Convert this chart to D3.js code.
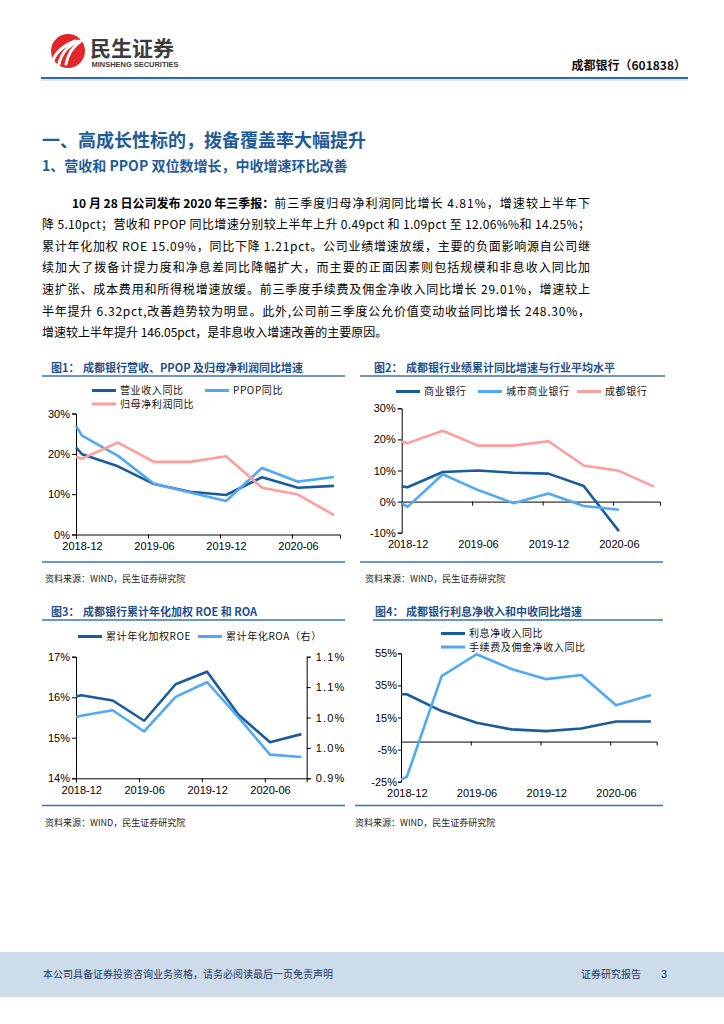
<!DOCTYPE html>
<html><head><meta charset="utf-8">
<script src="https://cdn.jsdelivr.net/npm/d3@7"></script>
<style>
body{margin:0;background:#fff}
svg{display:block}
</style>
</head><body>
<svg id="page" width="724" height="1024"></svg>
<script>
// ---------------- DATA ----------------
// x positions are months after the start of 2018-12 (Excel monthly category axis)
const periods = [0, 0.5, 3.5, 6.5, 9.5, 12.5, 15.5, 18.5, 21.5];
const xTickMonths = [0, 6, 12, 18];
const xLabelMonths = [0.5, 6.5, 12.5, 18.5];
const xTickLabels = ["2018-12", "2019-06", "2019-12", "2020-06"];

// Fig 1
const revenueYoY   = [21.6, 19.9, 16.9, 12.5, 10.6, 9.8, 14.2, 11.6, 12.06];
const ppopYoY      = [26.9, 24.5, 19.5, 12.6, 10.4, 8.3, 16.5, 13.1, 14.25];
const netProfitYoY = [19.3, 18.8, 22.8, 18.0, 18.0, 19.4, 11.6, 9.9, 4.81];
const fig1Names = ["营业收入同比", "PPOP同比", "归母净利润同比"];
const fig1Ticks = [0, 10, 20, 30];

// Fig 2
const industryPeriods = [0, 0.5, 3.5, 6.5, 9.5, 12.5, 15.5, 18.5];
const commercialBanks = [4.9, 4.6, 9.5, 10.0, 9.3, 9.0, 5.0, -9.5];
const cityBanks       = [-0.5, -1.7, 8.8, 3.7, -0.5, 2.6, -1.4, -2.6];
const chengduBank     = [19.3, 18.8, 22.8, 18.0, 18.0, 19.4, 11.6, 9.9, 4.81];
const fig2Names = ["商业银行", "城市商业银行", "成都银行"];
const fig2Ticks = [-10, 0, 10, 20, 30];

// Fig 3
const roe = [16.02, 16.05, 15.92, 15.42, 16.32, 16.63, 15.57, 14.89, 15.09];
const roa = [1.001, 1.003, 1.012, 0.977, 1.034, 1.058, 1.000, 0.939, 0.935];
const fig3Names = ["累计年化加权ROE", "累计年化ROA（右）"];
const roeTicks = [14, 15, 16, 17];
const roaTicks = [0.90, 0.95, 1.00, 1.05, 1.10];
const roaTickLabels = ["0.9%", "1.0%", "1.0%", "1.1%", "1.1%"];

// Fig 4
const netInterestYoY = [29.5, 29.5, 19.0, 11.7, 7.6, 6.5, 8.1, 12.5, 12.5];
const feeIncomeYoY   = [-23.6, -22.0, 40.8, 54.4, 45.2, 38.9, 41.5, 22.7, 29.01];
const fig4Names = ["利息净收入同比", "手续费及佣金净收入同比"];
const fig4Ticks = [-25, -5, 15, 35, 55];

// ---------------- STYLE ----------------
const CJK = "'Noto Sans CJK SC','Noto Sans',sans-serif";
const NUM = "'Liberation Sans',Arial,sans-serif";
const DARK = "#1a5b9c", LIGHT = "#4fa9f6", PINK = "#ff9c9c";
const TITLE_BLUE = "#1f4f8a", RULE_BLUE = "#3a75b6";

const svg = d3.select("#page");

// ---------------- HEADER ----------------
const logo = svg.append("g");
logo.append("circle").attr("cx", 68).attr("cy", 51).attr("r", 17).attr("fill", "#e0282b");
[-7, 0, 7].forEach(dx => {
  logo.append("path")
    .attr("d", `M${59 + dx},${64} Q${62 + dx},${49} ${78 + dx * 0.4},${41}`)
    .attr("stroke", "#fff").attr("stroke-width", 3).attr("fill", "none").attr("stroke-linecap", "round");
});
svg.append("text").attr("x", 90).attr("y", 55.5).text("民生证券")
  .attr("font-family", CJK).attr("font-weight", 700).attr("font-size", 21).attr("fill", "#3b3b3b");
svg.append("text").attr("x", 91.5).attr("y", 66.5).text("MINSHENG SECURITIES")
  .attr("font-family", NUM).attr("font-weight", 700).attr("font-size", 7).attr("fill", "#3b3b3b")
  .attr("textLength", 87).attr("lengthAdjust", "spacingAndGlyphs");
svg.append("text").attr("x", 686).attr("y", 70).attr("text-anchor", "end").text("成都银行（601838）")
  .attr("font-family", CJK).attr("font-weight", 700).attr("font-size", 12).attr("fill", "#111");
svg.append("line").attr("x1", 41).attr("x2", 688).attr("y1", 78).attr("y2", 78)
  .attr("stroke", "#2f69ad").attr("stroke-width", 2);
svg.append("line").attr("x1", 41).attr("x2", 688).attr("y1", 80).attr("y2", 80)
  .attr("stroke", "#b9cde3").attr("stroke-width", 1);

// ---------------- HEADINGS ----------------
svg.append("text").attr("x", 42).attr("y", 147).text("一、高成长性标的，拨备覆盖率大幅提升")
  .attr("font-family", CJK).attr("font-weight", 700).attr("font-size", 18).attr("fill", "#1f5b9a");
svg.append("text").attr("x", 42).attr("y", 171).text("1、营收和 PPOP 双位数增长，中收增速环比改善")
  .attr("font-family", CJK).attr("font-weight", 700).attr("font-size", 14).attr("fill", "#1f5b9a");

// ---------------- PARAGRAPH ----------------
const paraLines = [
  "降 5.10pct；营收和 PPOP 同比增速分别较上半年上升 0.49pct 和 1.09pct 至 12.06%%和 14.25%；",
  "累计年化加权 ROE 15.09%，同比下降 1.21pct。公司业绩增速放缓，主要的负面影响源自公司继",
  "续加大了拨备计提力度和净息差同比降幅扩大，而主要的正面因素则包括规模和非息收入同比加",
  "速扩张、成本费用和所得税增速放缓。前三季度手续费及佣金净收入同比增长 29.01%，增速较上",
  "半年提升 6.32pct,改善趋势较为明显。此外,公司前三季度公允价值变动收益同比增长 248.30%，",
  "增速较上半年提升 146.05pct，是非息收入增速改善的主要原因。"
];
const paraBold = "10 月 28 日公司发布 2020 年三季报：";
const paraFirstRest = "前三季度归母净利润同比增长 4.81%，增速较上半年下";
const P_SIZE = 12, P_RIGHT = 590, P_LEAD = 21.6, P_Y0 = 207.5;
const boldT = svg.append("text").attr("x", 72).attr("y", P_Y0).text(paraBold)
  .attr("font-family", CJK).attr("font-weight", 700).attr("font-size", P_SIZE).attr("fill", "#000");
const bw = boldT.node().getComputedTextLength();
svg.append("text").attr("x", 72 + bw).attr("y", P_Y0).text(paraFirstRest)
  .attr("font-family", CJK).attr("font-size", P_SIZE).attr("fill", "#000")
  .attr("textLength", P_RIGHT - 72 - bw).attr("lengthAdjust", "spacing");
paraLines.forEach((s, i) => {
  const t = svg.append("text").attr("x", 42).attr("y", P_Y0 + (i + 1) * P_LEAD).text(s)
    .attr("font-family", CJK).attr("font-size", P_SIZE).attr("fill", "#000");
  if (i < paraLines.length - 1) t.attr("textLength", P_RIGHT - 42).attr("lengthAdjust", "spacing");
});

// ---------------- HELPERS ----------------
function panelFrame(o) {
  svg.append("text").attr("x", o.numX).attr("y", o.titleY).text(o.num)
    .attr("font-family", CJK).attr("font-weight", 700).attr("font-size", 11).attr("fill", TITLE_BLUE);
  svg.append("text").attr("x", o.titleX).attr("y", o.titleY).text(o.title)
    .attr("font-family", CJK).attr("font-weight", 700).attr("font-size", 11).attr("fill", TITLE_BLUE);
  svg.append("line").attr("x1", o.ruleX1).attr("x2", o.ruleX2).attr("y1", o.ruleY).attr("y2", o.ruleY)
    .attr("stroke", RULE_BLUE).attr("stroke-width", 1.6);
  svg.append("line").attr("x1", o.botX1).attr("x2", o.botX2).attr("y1", o.botY).attr("y2", o.botY)
    .attr("stroke", RULE_BLUE).attr("stroke-width", 1.6);
  svg.append("text").attr("x", o.srcX).attr("y", o.srcY).text("资料来源：WIND，民生证券研究院")
    .attr("font-family", CJK).attr("font-size", 9).attr("fill", "#222");
}
function styleAxis(g, size) {
  g.selectAll(".domain").attr("stroke", "#000").attr("stroke-width", 1);
  g.selectAll(".tick line").attr("stroke", "#000").attr("stroke-width", 1);
  g.selectAll("text").attr("font-family", NUM).attr("font-size", size || 11).attr("fill", "#000");
}
function legendItem(x, y, color, label) {
  svg.append("line").attr("x1", x).attr("x2", x + 24).attr("y1", y).attr("y2", y)
    .attr("stroke", color).attr("stroke-width", 3);
  svg.append("text").attr("x", x + 28).attr("y", y + 3.6).text(label)
    .attr("font-family", CJK).attr("font-size", 10).attr("letter-spacing", 0.6).attr("fill", "#111");
}
function drawLine(xs, ys, xScale, yScale, color) {
  const line = d3.line().x((d, i) => xScale(xs[i])).y(d => yScale(d));
  svg.append("path").datum(ys).attr("d", line).attr("fill", "none")
    .attr("stroke", color).attr("stroke-width", 2.6).attr("stroke-linejoin", "round");
}
function xLabels(xScale, y) {
  const g = svg.append("g").attr("transform", `translate(0,${y})`)
    .call(d3.axisBottom(xScale).tickValues(xLabelMonths).tickSize(0).tickPadding(8)
      .tickFormat((d, i) => xTickLabels[i]));
  g.select(".domain").remove();
  styleAxis(g, 11);
}

// ---------------- FIG 1 ----------------
panelFrame({num: "图1：", numX: 51, title: "成都银行营收、PPOP 及归母净利润同比增速", titleX: 83, titleY: 372,
  ruleX1: 42, ruleX2: 345, ruleY: 376, botX1: 42, botX2: 345, botY: 562, srcX: 45, srcY: 582});
{
  const x = d3.scaleLinear().domain([0, 22]).range([76, 340]);
  const y = d3.scaleLinear().domain([0, 30]).range([534.5, 413.5]);
  const ga = svg.append("g").attr("transform", "translate(76,0)")
    .call(d3.axisLeft(y).tickValues(fig1Ticks).tickSize(4).tickPadding(2).tickFormat(d => d + "%"));
  styleAxis(ga);
  const gx = svg.append("g").attr("transform", "translate(0,534.5)")
    .call(d3.axisBottom(x).tickValues(xTickMonths).tickSize(4).tickFormat(""));
  styleAxis(gx);
  xLabels(x, 534.5);
  drawLine(periods, revenueYoY, x, y, DARK);
  drawLine(periods, ppopYoY, x, y, LIGHT);
  drawLine(periods, netProfitYoY, x, y, PINK);
  legendItem(92, 390.5, DARK, fig1Names[0]);
  legendItem(205, 390.5, LIGHT, fig1Names[1]);
  legendItem(92, 404, PINK, fig1Names[2]);
}

// ---------------- FIG 2 ----------------
panelFrame({num: "图2：", numX: 374, title: "成都银行业绩累计同比增速与行业平均水平", titleX: 406, titleY: 372,
  ruleX1: 360, ruleX2: 665, ruleY: 376, botX1: 360, botX2: 663, botY: 562, srcX: 365, srcY: 582});
{
  const x = d3.scaleLinear().domain([0, 22]).range([401.7, 660]);
  const y = d3.scaleLinear().domain([-10, 30]).range([532.7, 408.3]);
  const ga = svg.append("g").attr("transform", "translate(401.7,0)")
    .call(d3.axisLeft(y).tickValues(fig2Ticks).tickSize(4).tickPadding(2).tickFormat(d => d + "%"));
  styleAxis(ga);
  const gx = svg.append("g").attr("transform", `translate(0,${y(0)})`)
    .call(d3.axisBottom(x).tickValues(xTickMonths).tickSize(4).tickFormat(""));
  styleAxis(gx);
  xLabels(x, 532.7);
  drawLine(industryPeriods, commercialBanks, x, y, DARK);
  drawLine(industryPeriods, cityBanks, x, y, LIGHT);
  drawLine(periods, chengduBank, x, y, PINK);
  legendItem(396, 391.5, DARK, fig2Names[0]);
  legendItem(478, 391.5, LIGHT, fig2Names[1]);
  legendItem(577, 391.5, PINK, fig2Names[2]);
}

// ---------------- FIG 3 ----------------
panelFrame({num: "图3：", numX: 51, title: "成都银行累计年化加权 ROE 和 ROA", titleX: 83, titleY: 615.5,
  ruleX1: 42, ruleX2: 345, ruleY: 620, botX1: 42, botX2: 345, botY: 805.5, srcX: 45, srcY: 825.5});
{
  const x = d3.scaleLinear().domain([0, 22]).range([76, 306.7]);
  const yL = d3.scaleLinear().domain([14, 17]).range([778.3, 656.7]);
  const yR = d3.scaleLinear().domain([0.9, 1.1]).range([778.3, 656.7]);
  const ga = svg.append("g").attr("transform", "translate(76,0)")
    .call(d3.axisLeft(yL).tickValues(roeTicks).tickSize(4).tickPadding(2).tickFormat(d => d + "%"));
  styleAxis(ga);
  const gr = svg.append("g").attr("transform", "translate(306.7,0)")
    .call(d3.axisRight(yR).tickValues(roaTicks).tickSize(4).tickPadding(5).tickFormat((d, i) => roaTickLabels[i]));
  styleAxis(gr);
  gr.selectAll("text").attr("letter-spacing", 1.2);
  const gx = svg.append("g").attr("transform", "translate(0,778.3)")
    .call(d3.axisBottom(x).tickValues(xTickMonths).tickSize(4).tickFormat(""));
  styleAxis(gx);
  xLabels(x, 778.3);
  drawLine(periods, roe, x, yL, DARK);
  drawLine(periods, roa, x, yR, LIGHT);
  legendItem(78, 636.5, DARK, fig3Names[0]);
  legendItem(198, 636.5, LIGHT, fig3Names[1]);
}

// ---------------- FIG 4 ----------------
panelFrame({num: "图4：", numX: 375, title: "成都银行利息净收入和中收同比增速", titleX: 406, titleY: 615.5,
  ruleX1: 373, ruleX2: 663, ruleY: 620, botX1: 355, botX2: 663, botY: 805.5, srcX: 355, srcY: 825.5});
{
  const x = d3.scaleLinear().domain([0, 22]).range([401, 656.7]);
  const y = d3.scaleLinear().domain([-25, 55]).range([781.7, 653.3]);
  const ga = svg.append("g").attr("transform", "translate(401,0)")
    .call(d3.axisLeft(y).tickValues(fig4Ticks).tickSize(3).tickPadding(1).tickFormat(d => d + "%"));
  styleAxis(ga);
  const gx = svg.append("g").attr("transform", `translate(0,${y(0)})`)
    .call(d3.axisBottom(x).tickValues(xTickMonths).tickSize(4).tickFormat(""));
  styleAxis(gx);
  xLabels(x, 781.7);
  drawLine(periods, netInterestYoY, x, y, DARK);
  drawLine(periods, feeIncomeYoY, x, y, LIGHT);
  legendItem(441, 633.5, DARK, fig4Names[0]);
  legendItem(441, 647, LIGHT, fig4Names[1]);
}

// ---------------- FOOTER ----------------
svg.append("rect").attr("x", 0).attr("y", 952).attr("width", 724).attr("height", 45).attr("fill", "#cddcea");
svg.append("text").attr("x", 43).attr("y", 978).text("本公司具备证券投资咨询业务资格，请务必阅读最后一页免责声明")
  .attr("font-family", CJK).attr("font-size", 10).attr("fill", "#1f3b63");
svg.append("text").attr("x", 581).attr("y", 978).text("证券研究报告")
  .attr("font-family", CJK).attr("font-size", 10).attr("fill", "#1f3b63");
svg.append("text").attr("x", 661).attr("y", 978).text("3")
  .attr("font-family", NUM).attr("font-size", 11).attr("fill", "#1f3b63");
</script>
</body></html>
